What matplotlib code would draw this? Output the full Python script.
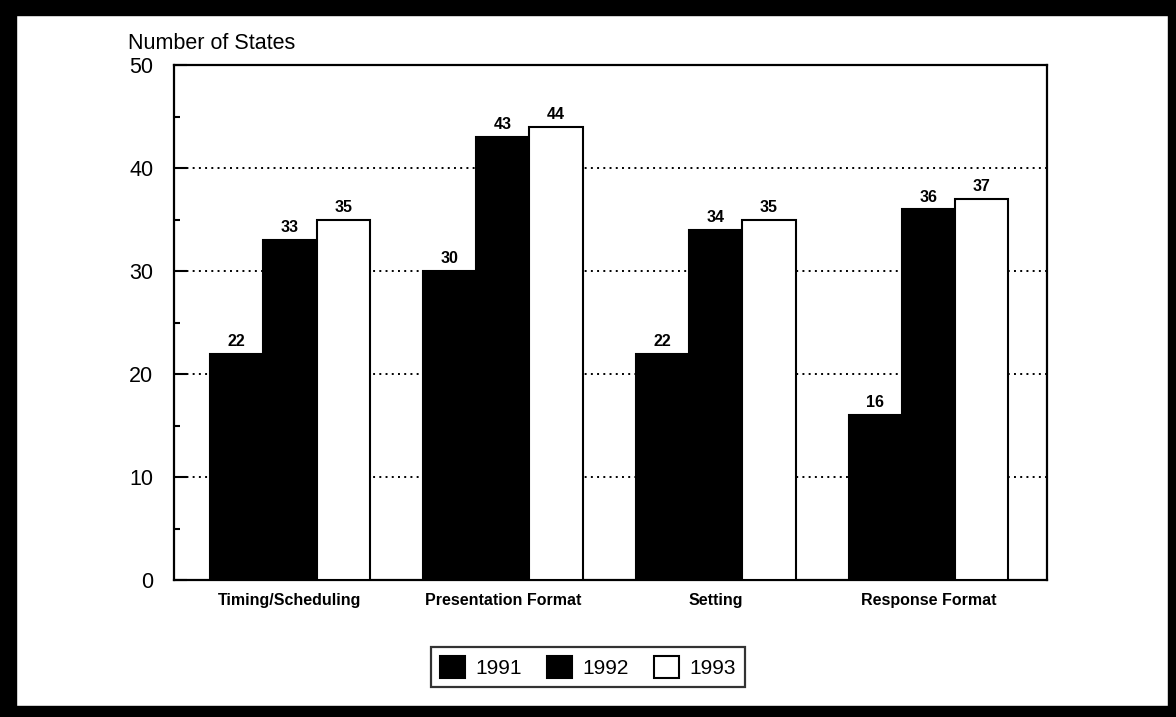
import matplotlib
matplotlib.use("Agg")
import matplotlib.pyplot as plt
import numpy as np
from matplotlib.patches import Rectangle
from matplotlib.ticker import MultipleLocator

plt.rcParams["font.family"] = ["Liberation Sans", "DejaVu Sans"]

categories = ["Timing/Scheduling", "Presentation Format", "Setting", "Response Format"]
years = ["1991", "1992", "1993"]
states_1991 = [22, 30, 22, 16]
states_1992 = [33, 43, 34, 36]
states_1993 = [35, 44, 35, 37]

series = [states_1991, states_1992, states_1993]
face = ["black", "black", "white"]

fig = plt.figure(figsize=(11.76, 7.17), dpi=100)
ax = fig.add_axes([0.148, 0.191, 0.742, 0.718])

x = np.arange(len(categories))
width = 0.25
offsets = [-width, 0, width]

for vals, off, fc, yr in zip(series, offsets, face, years):
    bars = ax.bar(x + off, vals, width, color=fc, edgecolor="black",
                  linewidth=1.5, label=yr, zorder=3)
    for b, v in zip(bars, vals):
        ax.annotate(str(v), (b.get_x() + b.get_width() / 2, v),
                    xytext=(0, 3.5), textcoords="offset points",
                    ha="center", va="bottom", fontsize=11.5, fontweight="bold")

ax.set_ylim(0, 50)
ax.set_xlim(-0.545, 3.555)
ax.yaxis.set_major_locator(MultipleLocator(10))
ax.yaxis.set_minor_locator(MultipleLocator(5))
ax.tick_params(axis="y", which="major", direction="in", length=9, width=1.5,
               labelsize=15.5, pad=15)
ax.tick_params(axis="y", which="minor", direction="in", length=4.5, width=1.5)
ax.tick_params(axis="x", length=0, labelsize=11.5, pad=9)
ax.set_xticks(x)
ax.set_xticklabels(categories, fontweight="bold")

for s in ax.spines.values():
    s.set_linewidth(1.6)
    s.set_color("black")

for yv in [10, 20, 30, 40]:
    ax.axhline(yv, color="black", linestyle=(0, (1, 2.2)), linewidth=1.4, zorder=1)

fig.text(0.109, 1 - 49 / 717, "Number of States", fontsize=15.5,
         ha="left", va="baseline")

leg = fig.legend(loc="center", bbox_to_anchor=(0.5, 0.0697), ncol=3,
                 fontsize=15, frameon=True, fancybox=False, edgecolor="black",
                 handlelength=1.2, handleheight=1.2, columnspacing=1.2,
                 handletextpad=0.5, borderpad=0.45, borderaxespad=0)
leg.get_frame().set_linewidth(1.6)

# scanned page border
for rect in [(0, 0.979, 1, 0.021), (0, 0, 0.014, 1), (0.993, 0, 0.007, 1), (0, 0, 1, 0.015)]:
    fig.add_artist(Rectangle(rect[:2], rect[2], rect[3], transform=fig.transFigure,
                             color="black", zorder=10))

fig.savefig("out.png", dpi=100)
